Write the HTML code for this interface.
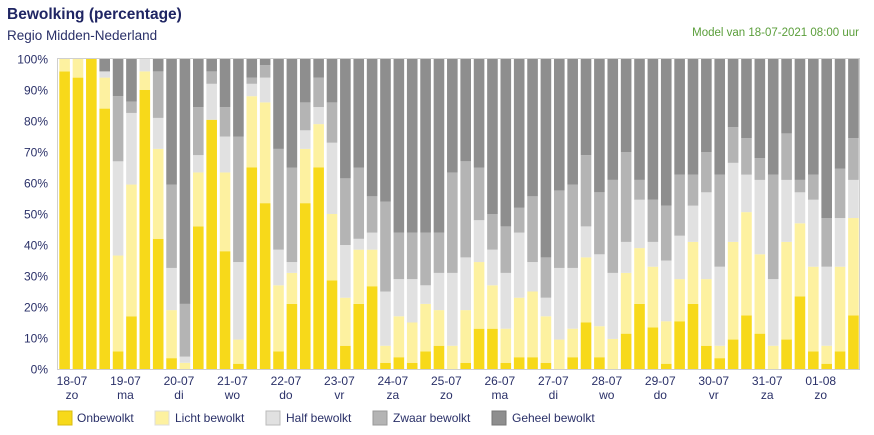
<!DOCTYPE html>
<html><head><meta charset="utf-8"><style>
body{margin:0;width:874px;height:435px;background:#fff;font-family:"Liberation Sans",sans-serif;overflow:hidden}
svg{position:absolute;left:0;top:0}
</style></head><body>
<svg id="s" width="874" height="435" xmlns="http://www.w3.org/2000/svg">
<text x="7" y="19" font-size="15.5" font-weight="bold" fill="#1f2563">Bewolking (percentage)</text>
<text x="7" y="40" font-size="13.5" fill="#2a3068">Regio Midden-Nederland</text>
<text x="859" y="36" font-size="11.5" fill="#5a9e3a" text-anchor="end">Model van 18-07-2021 08:00 uur</text>
<g id="yl" font-size="12" fill="#2a3068" text-anchor="end"></g>
<rect x="57.5" y="58.5" width="802" height="311" fill="#fff" stroke="#cfcfcf"/>
<g id="bars"></g>
<g id="xl" font-size="12" fill="#2a3068" text-anchor="middle"></g>
<g font-size="12" fill="#2a3068">
<rect x="58" y="411" width="14" height="14" fill="#f7d91a" stroke="#d8bc10"/><text x="77" y="422">Onbewolkt</text>
<rect x="155" y="411" width="14" height="14" fill="#fdf1a0" stroke="#ddd"/><text x="175" y="422">Licht bewolkt</text>
<rect x="266" y="411" width="14" height="14" fill="#e1e1e1" stroke="#bbb"/><text x="286" y="422">Half bewolkt</text>
<rect x="373" y="411" width="14" height="14" fill="#b4b4b4" stroke="#999"/><text x="393" y="422">Zwaar bewolkt</text>
<rect x="492" y="411" width="14" height="14" fill="#8e8e8e" stroke="#777"/><text x="512" y="422">Geheel bewolkt</text>
</g>
</svg>
<script>
var NS="http://www.w3.org/2000/svg";
var d=[[96,100,100,100],[94,100,100,100],[100,100,100,100],[84,94,96,96],[5.7,36.6,67,88],[17,59.5,82.6,86.3],[90,96,100,100],[42,71,81,96],[3.5,19,32.6,59.5],[0,2,4,21],
[46,63.4,69,84.5],[80.4,80.4,92,96],[38,63.4,75,84.5],[1.7,9.5,34.5,75],[65,88,92,94],[53.5,86,94,98],[5.7,27,38.5,71],[21,31,34.5,65],[53.5,71,77,86],[65,79,84.5,94],
[28.6,50,73,86],[7.5,23,40,61.5],[21,38.5,42,65],[26.7,38.5,44,55.7],[2,7.5,25,54],[3.8,17,29,44],[2,15,29,44],[5.7,21,27,44],[7.5,19,31,44],[0,7.5,31,63.4],
[2,19,36,67],[13,34.5,48,65],[13,27,38.5,50],[2,13,31,46],[3.8,23,44,52],[3.8,25,34.5,55.7],[2,17,23,36],[0,9.5,32.6,57.6],[3.8,13,32.6,59.5],[15,36,46,69],
[3.8,13.8,37,57],[0,9.7,31,61],[11.4,31,41,70],[21,39,54.6,61],[13.4,33,41,54.6],[1.7,15.4,35,52.7],[15.4,29,43,62.7],[21,41,52.7,62.7],[7.5,29,57,70],[3.5,7.5,33,62.7],
[9.5,41,66.5,78],[17.3,50.6,62.7,74.5],[11.4,37,61,68],[0,7.5,29,62.7],[9.5,41,61,76],[23.4,47,57,61],[5.7,33,54.6,62.7],[1.7,7.5,33,48.7],[5.7,33,48.7,64.6],[17.3,48.7,61,74.5]];
var cols=["#f7d91a","#fdf1a0","#e1e1e1","#b4b4b4","#8e8e8e"];
var g=document.getElementById("bars");
function Y(p){return 369-p*3.1;}
function r(x,y,w,h,f){var e=document.createElementNS(NS,"rect");e.setAttribute("x",x);e.setAttribute("y",y);e.setAttribute("width",w);e.setAttribute("height",h);e.setAttribute("fill",f);g.appendChild(e);}
for(var i=0;i<60;i++){var x=59.3+i*13.37;var v=[0].concat(d[i]).concat([100]);
for(var k=0;k<5;k++){var a=v[k],b=v[k+1];if(b>a)r(x,Y(b),10.6,Y(a)-Y(b),cols[k]);}}
var yl=document.getElementById("yl");
for(var p=0;p<=100;p+=10){var t=document.createElementNS(NS,"text");t.setAttribute("x",48);t.setAttribute("y",Y(p)+4.5);t.textContent=p+"%";yl.appendChild(t);}
var xl=document.getElementById("xl");
var days=["18-07","19-07","20-07","21-07","22-07","23-07","24-07","25-07","26-07","27-07","28-07","29-07","30-07","31-07","01-08"];
var nm=["zo","ma","di","wo","do","vr","za","zo","ma","di","wo","do","vr","za","zo"];
for(var j=0;j<15;j++){var cx=72+j*53.48;
var t=document.createElementNS(NS,"text");t.setAttribute("x",cx);t.setAttribute("y",385);t.textContent=days[j];xl.appendChild(t);
var u=document.createElementNS(NS,"text");u.setAttribute("x",cx);u.setAttribute("y",399);u.textContent=nm[j];xl.appendChild(u);}
</script>
</body></html>
